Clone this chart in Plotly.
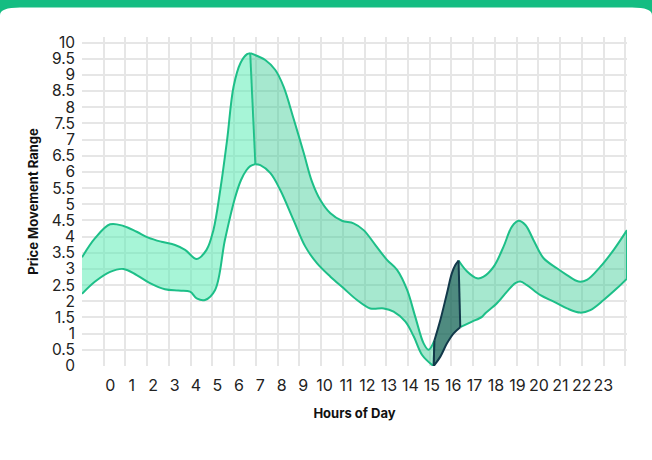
import plotly.graph_objects as go

# hour positions / values, split in the four shaded stretches
a_up_x = [-1.32, -0.71, -0.01, 0.61, 1.23, 1.77, 2.39, 3.02, 3.49, 4.03, 4.49, 4.81, 5.13, 5.45, 5.75, 6.07, 6.38, 6.53]
a_up_y = [3.36, 3.95, 4.38, 4.33, 4.15, 3.97, 3.84, 3.74, 3.59, 3.31, 3.59, 4.2, 5.44, 6.99, 8.63, 9.36, 9.64, 9.67]
a_lo_x = [-1.32, -0.71, -0.01, 0.61, 1.23, 1.85, 2.55, 3.17, 3.72, 4.03, 4.42, 4.89, 5.35, 5.82, 6.10, 6.35, 6.53, 6.77]
a_lo_y = [2.23, 2.61, 2.91, 3.0, 2.81, 2.56, 2.37, 2.33, 2.30, 2.09, 2.04, 2.35, 3.9, 5.2, 5.75, 6.05, 6.18, 6.24]

b_up_x = [6.53, 7.23, 7.70, 8.09, 8.55, 9.02, 9.41, 9.80, 10.27, 10.81, 11.35, 11.82, 12.37, 12.91, 13.38, 13.85, 14.23, 14.62, 14.85, 15.12]
b_up_y = [9.67, 9.46, 9.15, 8.63, 7.65, 6.6, 5.7, 5.13, 4.72, 4.49, 4.41, 4.2, 3.74, 3.28, 2.97, 2.35, 1.52, 0.7, 0.50, 0.78]
b_lo_x = [6.77, 7.0, 7.47, 7.93, 8.55, 9.10, 9.65, 10.27, 10.89, 11.51, 12.13, 12.76, 13.22, 13.77, 14.16, 14.55, 15.02, 15.09]
b_lo_y = [6.24, 6.21, 5.96, 5.44, 4.51, 3.69, 3.17, 2.76, 2.40, 2.04, 1.78, 1.78, 1.68, 1.37, 0.91, 0.34, 0.03, 0.0]

c_up_x = [15.12, 15.40, 15.71, 15.94, 16.10, 16.25]
c_up_y = [0.78, 1.42, 2.25, 2.87, 3.12, 3.26]
c_lo_x = [15.09, 15.40, 15.71, 16.02, 16.33]
c_lo_y = [0.0, 0.29, 0.70, 1.01, 1.20]

d_up_x = [16.25, 16.65, 17.11, 17.42, 17.89, 18.35, 18.74, 19.05, 19.37, 19.75, 20.22, 20.84, 21.31, 21.85, 22.24, 22.87, 23.49, 24.11]
d_up_y = [3.26, 2.92, 2.71, 2.76, 3.07, 3.69, 4.31, 4.49, 4.36, 3.89, 3.33, 3.02, 2.81, 2.61, 2.66, 3.07, 3.59, 4.2]
d_lo_x = [16.33, 16.88, 17.34, 17.50, 18.04, 18.51, 18.90, 19.13, 19.44, 20.07, 20.69, 21.31, 21.93, 22.40, 23.02, 23.64, 24.11]
d_lo_y = [1.20, 1.37, 1.52, 1.63, 1.94, 2.30, 2.56, 2.61, 2.50, 2.19, 1.99, 1.78, 1.65, 1.73, 2.04, 2.40, 2.70]

hours = list(range(24))

GREEN = '#1dbf88'
NAVY = '#12394a'

fig = go.Figure()


def add_band(up_x, up_y, lo_x, lo_y, fill, line, closed=False):
    fig.add_trace(go.Scatter(x=lo_x, y=lo_y, mode='lines',
                             line=dict(color=line, width=2, shape='spline')))
    fig.add_trace(go.Scatter(x=up_x, y=up_y, mode='lines', fill='tonexty', fillcolor=fill,
                             line=dict(color=line, width=2, shape='spline')))
    # the closing edge on the right (and the left one for the dark piece)
    fig.add_trace(go.Scatter(x=[up_x[-1], lo_x[-1]], y=[up_y[-1], lo_y[-1]], mode='lines',
                             line=dict(color=line, width=2)))
    if closed:
        fig.add_trace(go.Scatter(x=[up_x[0], lo_x[0]], y=[up_y[0], lo_y[0]], mode='lines',
                                 line=dict(color=line, width=2)))


add_band(a_up_x, a_up_y, a_lo_x, a_lo_y, 'rgba(80,235,175,0.5)', GREEN)
add_band(b_up_x, b_up_y, b_lo_x, b_lo_y, 'rgba(60,205,150,0.46)', GREEN)
add_band(d_up_x, d_up_y, d_lo_x, d_lo_y, 'rgba(60,205,150,0.46)', GREEN)
add_band(c_up_x, c_up_y, c_lo_x, c_lo_y, 'rgba(20,100,85,0.75)', NAVY, closed=True)

# px -> paper helpers for the green top strip of the card
L, R, T, B = 82, 25, 37, 94
W, H = 652, 460


def px(v):
    return (v - L) / (W - L - R)


def py(v):
    return (H - B - v) / (H - T - B)


strip = (f"M {px(0)},{py(0)} L {px(W)},{py(0)} L {px(W)},{py(15)} "
         f"Q {px(W)},{py(7.5)} {px(W - 20)},{py(7.5)} L {px(20)},{py(7.5)} "
         f"Q {px(0)},{py(7.5)} {px(0)},{py(15)} Z")
fig.add_shape(type='path', path=strip, xref='paper', yref='paper',
              fillcolor='#14bd82', line=dict(width=0), layer='above')

fig.update_layout(
    width=W, height=H,
    showlegend=False,
    paper_bgcolor='white',
    plot_bgcolor='white',
    font=dict(family='Inter', size=16, color='#222222'),
    margin=dict(l=L, r=R, t=T, b=B, autoexpand=False),
    xaxis=dict(range=[-1.321, 24.11], tickmode='array', tickvals=hours,
               ticktext=[str(h) for h in hours], tickangle=0, showgrid=False, zeroline=False,
               ticks='', ticklabelstandoff=8,
               minor=dict(tick0=-1.321, dtick=1.014, showgrid=True,
                          gridcolor='#e6e6e6', gridwidth=2),
               title=dict(text='Hours of Day', standoff=14,
                          font=dict(size=13, weight=700, color='#111111'))),
    yaxis=dict(range=[0, 10.17], dtick=0.5, showgrid=True, gridcolor='#e6e6e6', gridwidth=2,
               zeroline=False, ticks='', ticklabelstandoff=6, tickfont=dict(size=15.5),
               title=dict(text='Price Movement Range', standoff=10,
                          font=dict(size=13, weight=700, color='#111111'))),
)

fig.write_html("out.html", config={'displayModeBar': False},
               post_script="document.body.style.margin='0';")
